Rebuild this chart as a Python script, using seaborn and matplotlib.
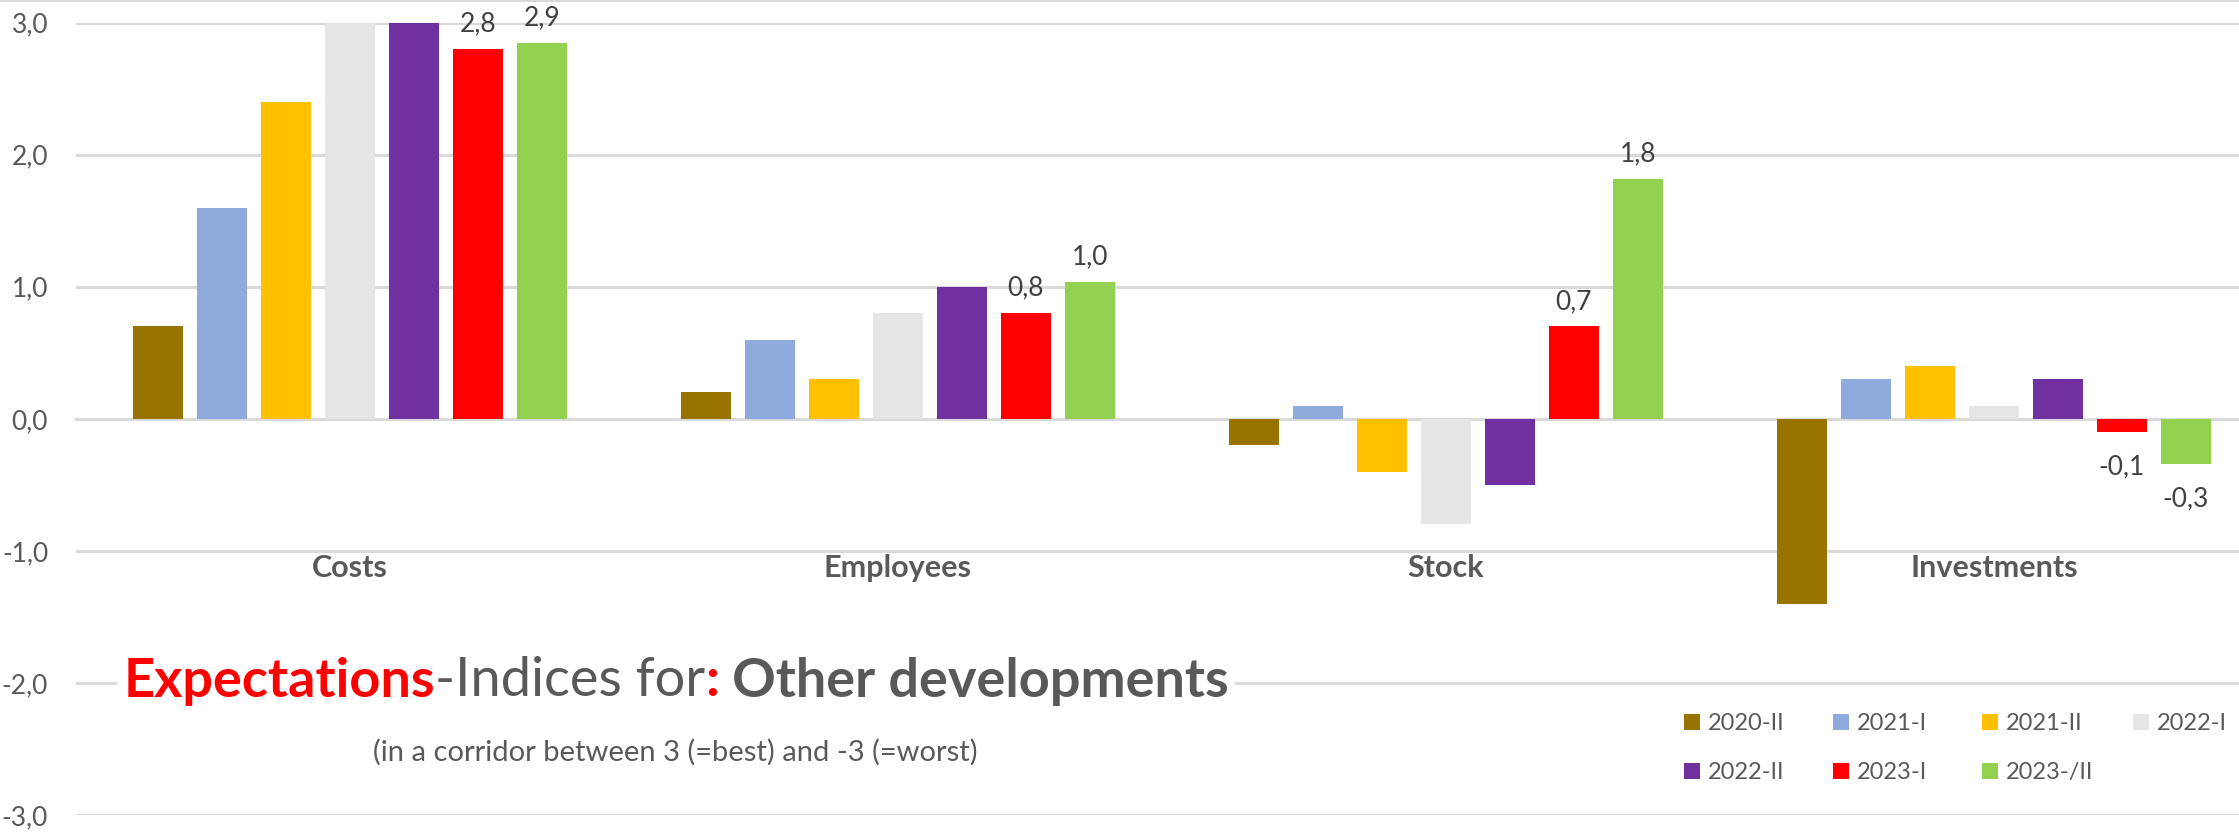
import numpy as np
import pandas as pd
import matplotlib
matplotlib.use("Agg")
import matplotlib.pyplot as plt
import seaborn as sns
from matplotlib.offsetbox import TextArea, HPacker, AnchoredOffsetbox
from matplotlib.lines import Line2D

# ---------------- data ----------------
categories = ["Costs", "Employees", "Stock", "Investments"]
periods = ["2020-II", "2021-I", "2021-II", "2022-I", "2022-II", "2023-I", "2023-/II"]
v_2020_II = [0.7, 0.2, -0.2, -1.4]
v_2021_I = [1.6, 0.6, 0.1, 0.3]
v_2021_II = [2.4, 0.3, -0.4, 0.4]
v_2022_I = [3.0, 0.8, -0.8, 0.1]
v_2022_II = [3.0, 1.0, -0.5, 0.3]
v_2023_I = [2.8, 0.8, 0.7, -0.1]
v_2023_II = [2.85, 1.04, 1.82, -0.34]
labelled_periods = ["2023-I", "2023-/II"]
yticks = [-3, -2, -1, 0, 1, 2, 3]
colors = ["#997300", "#8FAADC", "#FFC000", "#E7E6E6", "#7030A0", "#FF0000", "#92D050"]

series = [v_2020_II, v_2021_I, v_2021_II, v_2022_I, v_2022_II, v_2023_I, v_2023_II]
rows = []
for p, vals in zip(periods, series):
    for c, v in zip(categories, vals):
        rows.append({"category": c, "period": p, "value": v})
df = pd.DataFrame(rows)

# ---------------- style ----------------
sns.set_theme(style="white")
plt.rcParams["font.family"] = ["Lato", "DejaVu Sans"]
TXT = "#595959"
GRID = "#D9D9D9"

W, H = 2239, 832
fig = plt.figure(figsize=(W / 100, H / 100), dpi=100)
ax = fig.add_axes([76 / W, 1 - 815 / H, 2192 / W, (815 - 22.7) / H])

sns.barplot(data=df, x="category", y="value", hue="period", order=categories,
            hue_order=periods, palette=colors, saturation=1, width=0.8175, gap=0.22,
            errorbar=None, linewidth=0, ax=ax, zorder=3)

handles, labels = ax.get_legend_handles_labels()
if ax.get_legend() is not None:
    ax.get_legend().remove()

ax.set_ylim(-3, 3)
ax.set_xlim(-0.5, 3.5)
ax.set_yticks(yticks)
ax.set_yticklabels([f"{t:.1f}".replace(".", ",") for t in yticks])
ax.tick_params(axis="y", length=0, pad=20, labelsize=19, labelcolor=TXT)
ax.yaxis.grid(True, color=GRID, linewidth=2.2, zorder=0)
ax.set_axisbelow(True)
ax.set_xlabel("")
ax.set_ylabel("")

for s in ["top", "right", "left"]:
    ax.spines[s].set_visible(False)
ax.spines["bottom"].set_position(("data", 0))
ax.spines["bottom"].set_color(GRID)
ax.spines["bottom"].set_linewidth(2.2)
ax.set_xticks(range(len(categories)))
ax.set_xticklabels([])
ax.tick_params(axis="x", which="major", length=0)
ax.set_xticks(np.arange(-0.5, len(categories), 1.0), minor=True)
ax.tick_params(axis="x", which="minor", length=8, width=1.6, color=GRID, direction="out")

for i, c in enumerate(categories):
    ax.text(i, -1.195, c, ha="center", va="baseline", fontsize=22,
            fontweight="bold", color=TXT)

# data labels
for p in labelled_periods:
    cont = ax.containers[periods.index(p)]
    vals = series[periods.index(p)]
    pos = [f"{v:.1f}".replace(".", ",") if v >= 0 else "" for v in vals]
    neg = [f"{v:.1f}".replace(".", ",") if v < 0 else "" for v in vals]
    ax.bar_label(cont, labels=pos, padding=9, fontsize=19, color="#404040")
    ax.bar_label(cont, labels=neg, padding=16, fontsize=19, color="#404040")

# title
RED = "#FF0000"
tsize = 39
parts = [("Expectations", RED, "bold"), ("-Indices for", TXT, "normal"),
         (":", RED, "bold"), (" Other developments", TXT, "bold")]
boxes = [TextArea(t, textprops=dict(color=col, fontweight=fw, fontsize=tsize))
         for t, col, fw in parts]
pack = HPacker(children=boxes, align="baseline", pad=0, sep=0)
ab = AnchoredOffsetbox(loc="center", child=pack, frameon=True, pad=0.4,
                       bbox_to_anchor=(676 / W, 1 - 681 / H),
                       bbox_transform=fig.transFigure, borderpad=0)
ab.patch.set_facecolor("white")
ab.patch.set_edgecolor("none")
ab.zorder = 5
fig.add_artist(ab)

fig.text(675 / W, 1 - 752 / H, "(in a corridor between 3 (=best) and -3 (=worst)",
         ha="center", va="center", fontsize=21, color=TXT)

# legend: one column legend per Excel column
col_groups = [[0, 4], [1, 5], [2, 6], [3]]
col_x = [1684, 1833, 1982, 2133]
for grp, x in zip(col_groups, col_x):
    leg = fig.legend([handles[i] for i in grp], [labels[i] for i in grp],
                     loc="upper left", bbox_to_anchor=(x / W, 1 - 713 / H),
                     frameon=False, fontsize=17, handlelength=0.68, handleheight=0.68,
                     handletextpad=0.35, borderpad=0, borderaxespad=0,
                     labelspacing=1.2)
    for t in leg.get_texts():
        t.set_color(TXT)

# top border line
fig.add_artist(Line2D([0, 1], [1 - 1 / H, 1 - 1 / H], transform=fig.transFigure,
                      color=GRID, linewidth=1.5))

fig.savefig("out.png", dpi=100)
